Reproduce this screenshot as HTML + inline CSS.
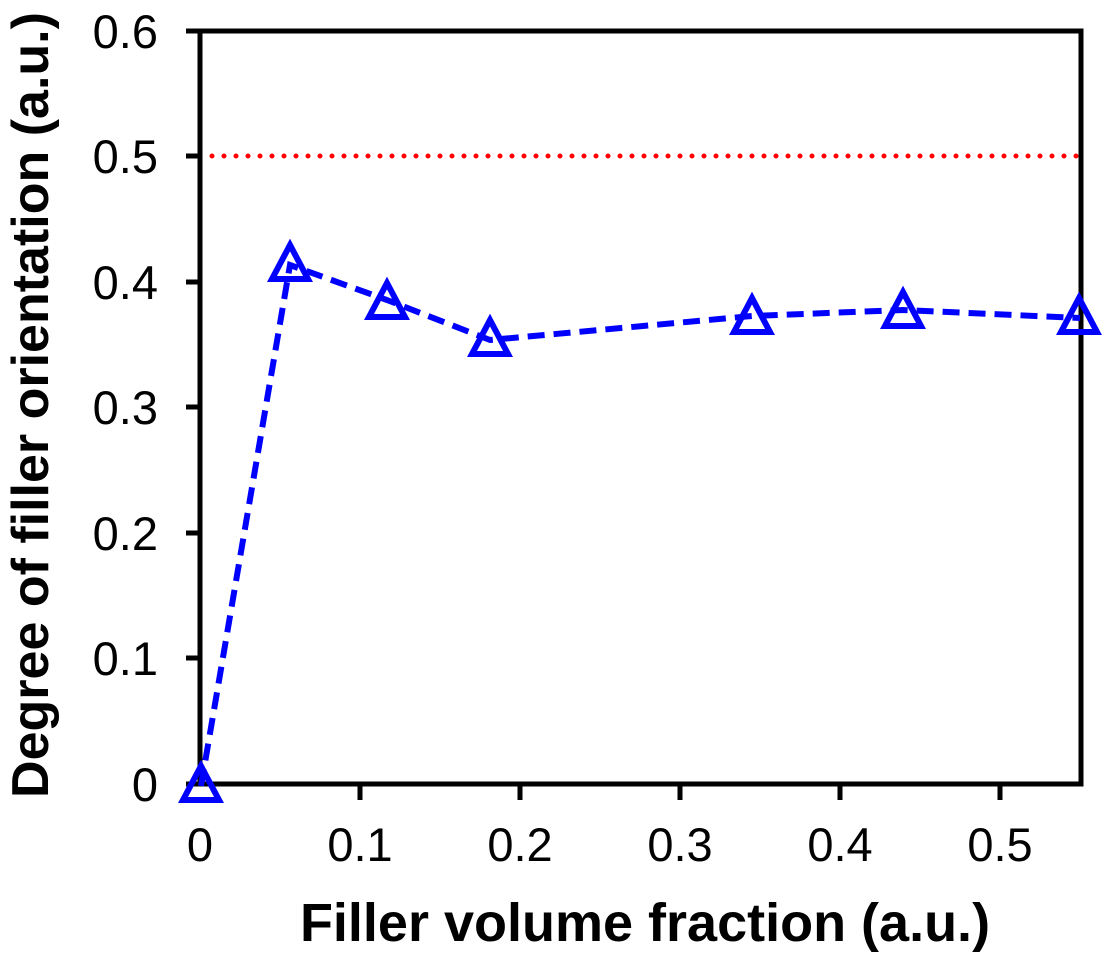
<!DOCTYPE html>
<html><head><style>body{margin:0;background:#fff}svg{display:block}</style></head>
<body>
<svg width="1102" height="953" xmlns="http://www.w3.org/2000/svg" font-family="Liberation Sans, Arial, sans-serif">
<line x1="200" y1="156" x2="1081" y2="156" stroke="#ff0000" stroke-width="5" stroke-dasharray="0 12" stroke-linecap="round"/>
<g stroke="#000" stroke-width="5" fill="none">
<rect x="200" y="31" width="881" height="753"/>
<path d="M186 31H200M186 156H200M186 282H200M186 407H200M186 533H200M186 658H200M186 784H200"/>
<path d="M360 784V800M520 784V800M680 784V800M840 784V800M1000 784V800"/>
</g>
<polyline points="201,786 290,265 387,300 490,340 752,316 903,310 1080,318" fill="none" stroke="#0000ff" stroke-width="6" stroke-dasharray="17 9"/>
<g fill="none" stroke="#0000ff" stroke-width="6" stroke-linejoin="miter">
<path d="M201,766 L219,800 L183,800 Z"/>
<path d="M290,245 L308,279 L272,279 Z"/>
<path d="M387,283 L405,317 L369,317 Z"/>
<path d="M490,320 L508,354 L472,354 Z"/>
<path d="M752,298 L770,332 L734,332 Z"/>
<path d="M903,292 L921,326 L885,326 Z"/>
<path d="M1079,298 L1097,332 L1061,332 Z"/>
</g>
<g font-size="47" text-anchor="end" fill="#000">
<text x="158" y="48">0.6</text>
<text x="158" y="173">0.5</text>
<text x="158" y="299">0.4</text>
<text x="158" y="424">0.3</text>
<text x="158" y="550">0.2</text>
<text x="158" y="675">0.1</text>
<text x="158" y="801">0</text>
</g>
<g font-size="47" text-anchor="middle" fill="#000">
<text x="200" y="861">0</text>
<text x="360" y="861">0.1</text>
<text x="520" y="861">0.2</text>
<text x="680" y="861">0.3</text>
<text x="840" y="861">0.4</text>
<text x="1000" y="861">0.5</text>
</g>
<text x="645" y="941" font-size="54" font-weight="bold" text-anchor="middle">Filler volume fraction (a.u.)</text>
<text transform="translate(48,405) rotate(-90)" font-size="52" font-weight="bold" text-anchor="middle">Degree of filler orientation (a.u.)</text>
</svg>
</body></html>
